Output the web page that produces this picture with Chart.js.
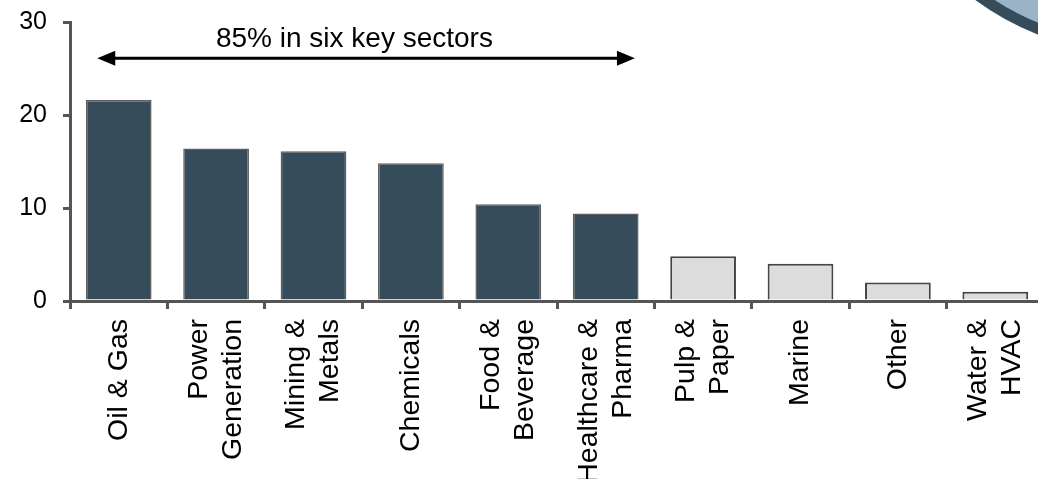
<!DOCTYPE html>
<html>
<head>
<meta charset="utf-8">
<script src="https://cdn.jsdelivr.net/npm/chart.js@4.4.1/dist/chart.umd.min.js"></script>
<style>
    html, body { margin: 0; padding: 0; background: #ffffff; overflow: hidden; }
    #conteiner { width: 1050px; height: 479px; }
</style>
</head>
<body>
<div id="conteiner"><canvas id="setores" width="1050" height="479"></canvas></div>
<script>
const setores = [
    ['Oil & Gas'],
    ['Power', 'Generation'],
    ['Mining &', 'Metals'],
    ['Chemicals'],
    ['Food &', 'Beverage'],
    ['Healthcare &', 'Pharma'],
    ['Pulp &', 'Paper'],
    ['Marine'],
    ['Other'],
    ['Water &', 'HVAC']
];
const valores = [21.6, 16.4, 16.1, 14.8, 10.4, 9.4, 4.8, 4.0, 2.0, 1.0];
const setorChave = [true, true, true, true, true, true, false, false, false, false];
const ticksY = [0, 10, 20, 30];

const textoSeta = '85% in six key sectors';
const nivelSeta = 26.1;
const nivelTexto = 27.3;

const corChave = '#374c5b';
const corOutros = '#dcdcdc';
const corEixo = '#555555';
const fonte = '"Liberation Sans", Arial, sans-serif';

// rotulos do eixo x na vertical, com as linhas centradas no meio da categoria
const rotulosX = {
    id: 'rotulosX',
    afterDraw(chart) {
        const ctx = chart.ctx;
        const x = chart.scales.x;
        const topo = x.top + 18;
        const entrelinha = 34;
        ctx.save();
        ctx.fillStyle = '#000';
        ctx.font = '28.5px ' + fonte;
        ctx.textAlign = 'right';
        ctx.textBaseline = 'middle';
        setores.forEach((linhas, i) => {
            const px = x.getPixelForValue(i);
            ctx.save();
            ctx.translate(px, topo);
            ctx.rotate(-Math.PI / 2);
            linhas.forEach((linha, j) => {
                ctx.fillText(linha, 0, (j - (linhas.length - 1) / 2) * entrelinha);
            });
            ctx.restore();
        });
        ctx.restore();
    }
};

// seta dupla sobre os seis setores principais + circulo decorativo no canto
const anotacao = {
    id: 'anotacao',
    afterDraw(chart) {
        const ctx = chart.ctx;
        const x = chart.scales.x;
        const y = chart.scales.y;
        const passo = x.getPixelForValue(1) - x.getPixelForValue(0);
        const x1 = x.getPixelForValue(0) - 0.22 * passo;
        const x2 = x.getPixelForValue(5) + 0.30 * passo;
        const ys = y.getPixelForValue(nivelSeta);

        ctx.save();
        ctx.strokeStyle = '#000';
        ctx.fillStyle = '#000';
        ctx.lineWidth = 3;
        ctx.beginPath();
        ctx.moveTo(x1 + 10, ys);
        ctx.lineTo(x2 - 10, ys);
        ctx.stroke();

        ctx.beginPath();
        ctx.moveTo(x1, ys);
        ctx.lineTo(x1 + 18, ys - 7.5);
        ctx.lineTo(x1 + 18, ys + 7.5);
        ctx.closePath();
        ctx.fill();

        ctx.beginPath();
        ctx.moveTo(x2, ys);
        ctx.lineTo(x2 - 18, ys - 7.5);
        ctx.lineTo(x2 - 18, ys + 7.5);
        ctx.closePath();
        ctx.fill();

        ctx.font = '28px ' + fonte;
        ctx.textAlign = 'center';
        ctx.textBaseline = 'alphabetic';
        ctx.fillText(textoSeta, x.getPixelForValue(2) + 0.42 * passo, y.getPixelForValue(nivelTexto));

        ctx.beginPath();
        ctx.arc(1140, -224, 272.5, 0, Math.PI * 2);
        ctx.fillStyle = '#9bb3c6';
        ctx.fill();
        ctx.lineWidth = 11;
        ctx.strokeStyle = '#364c5b';
        ctx.stroke();
        ctx.restore();
    }
};

new Chart(document.getElementById('setores'), {
    type: 'bar',
    data: {
        labels: setores,
        datasets: [{
            data: valores,
            backgroundColor: setorChave.map(c => c ? corChave : corOutros),
            borderColor: setorChave.map(c => c ? '#5e5e5e' : '#444444'),
            borderWidth: setorChave.map(c => c ? 1.5 : 2),
            barPercentage: 0.675,
            categoryPercentage: 1
        }]
    },
    options: {
        responsive: false,
        animation: false,
        layout: { padding: { top: 22, right: 6, left: 0, bottom: 0 } },
        plugins: {
            legend: { display: false },
            tooltip: { enabled: false }
        },
        scales: {
            x: {
                afterFit(scale) {
                    scale.height = 178;
                    scale.paddingLeft = 0;
                    scale.paddingRight = 0;
                },
                grid: {
                    offset: true,
                    drawOnChartArea: false,
                    drawTicks: true,
                    tickLength: 8,
                    lineWidth: 3,
                    color: corEixo
                },
                border: { display: true, color: corEixo, width: 3 },
                ticks: { display: false, autoSkip: false }
            },
            y: {
                min: 0,
                max: 30,
                afterFit(scale) {
                    scale.width = 70;
                    scale.paddingTop = 0;
                    scale.paddingBottom = 0;
                },
                afterBuildTicks(scale) { scale.ticks = ticksY.map(v => ({ value: v })); },
                grid: {
                    drawOnChartArea: false,
                    drawTicks: true,
                    tickLength: 7,
                    lineWidth: 3,
                    color: corEixo
                },
                border: { display: true, color: corEixo, width: 3 },
                ticks: {
                    padding: 16,
                    color: '#000',
                    font: { size: 25, family: fonte }
                }
            }
        }
    },
    plugins: [rotulosX, anotacao]
});
</script>
</body>
</html>
